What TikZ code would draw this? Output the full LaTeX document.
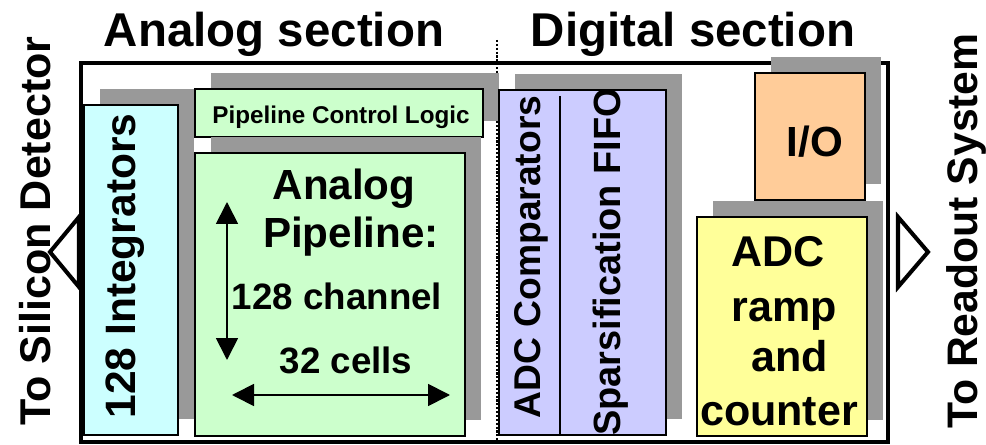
\documentclass[tikz,border=0pt]{standalone}
\usepackage{fontspec}
\setmainfont{Liberation Sans}
\usetikzlibrary{shadows}
\usetikzlibrary{fit}
\usetikzlibrary{arrows.meta}
\definecolor{shadegray}{HTML}{999999}
\definecolor{integcol}{HTML}{CCFFFF}
\definecolor{pipecol}{HTML}{CCFFCC}
\definecolor{fifocol}{HTML}{CCCCFF}
\definecolor{iocol}{HTML}{FFCC99}
\definecolor{rampcol}{HTML}{FFFF99}
\newcommand{\fsz}[1]{\fontsize{#1}{#1}\selectfont\bfseries}
\tikzstyle{block}=[draw, line width=1pt, inner sep=0pt, drop shadow={shadow xshift=0.32cm, shadow yshift=0.32cm, fill=shadegray, opacity=1}]
\tikzstyle{chipframe}=[draw, line width=2.5pt, inner sep=0pt]
\tikzstyle{divider}=[densely dotted, line width=1.2pt]
\tikzstyle{port}=[draw, fill=white, line width=2.3pt, line join=miter]
\tikzstyle{span}=[{Triangle[length=0.44cm,width=0.44cm]}-{Triangle[length=0.44cm,width=0.44cm]}, line width=1pt]
\tikzstyle{txt}=[inner sep=0pt, anchor=base]

\begin{document}
\begin{tikzpicture}[x=0.02cm, y=-0.02cm]
  \useasboundingbox (0,0) rectangle (986,445);

  % chip outline and section border
  \node[chipframe, fit={(81,63) (888,442)}] (chip) {};
  \coordinate (divtop) at (497,40);
  \coordinate (divbot) at (497,443);
  \draw[divider] (divtop) -- (divbot);

  % blocks
  \foreach \name/\xa/\ya/\xb/\yb/\col in {integ/84/105/178/435/integcol, ctrl/195/89/483/137/pipecol, pipe/195/153/465/436/pipecol, fifo/499/90/666/435/fifocol, io/755/73/865/200/iocol, ramp/697/217/867/436/rampcol}
    \node[block, fill=\col, fit={(\xa,\ya) (\xb,\yb)}] (\name) {};

  \coordinate (fifosplit) at (560,96);
  \draw[line width=1pt] (fifosplit) -- (fifosplit |- fifo.south);

  % ports
  \draw[port] (79,217) -- (50,252) -- (79,287) -- cycle;
  \draw[port] (898,217) -- (928,252) -- (898,287) -- cycle;

  % horizontal labels
  \foreach \name/\x/\y/\s/\label in {asec/274/47/27/Analog section, dsec/693/47/27/Digital section, ctrltxt/341/124/13.8/Pipeline Control Logic, pipetxta/344/200/24/Analog, pipetxtb/351/248/24/Pipeline:, chan/337/310/20.9/128 channel, cells/346/374/20.9/32 cells, iotxt/815/157/24/{I/O}, adc/778/267/24.5/ADC, ramptxt/784/322/24.5/ramp, andtxt/790/372/24.5/and, counter/779/425/24.5/counter}
    \node[txt, font=\fsz{\s}] (\name) at (\x,\y) {\label};

  % rotated labels
  \foreach \name/\x/\y/\s/\label in {silicon/50/231/24.5/To Silicon Detector, readout/977/231/24.3/To Readout System, integtxt/135/266/24.2/128 Integrators, comptxt/540/257/21.2/ADC Comparators, sparstxt/620/262/21.6/Sparsification FIFO}
    \node[txt, rotate=90, font=\fsz{\s}] (\name) at (\x,\y) {\label};

  % pipeline extent
  \coordinate (vtop) at (227,202);
  \coordinate (vbot) at (227,360);
  \coordinate (hleft) at (232,395);
  \coordinate (hright) at (450,395);
  \draw[span] (vtop) -- (vbot);
  \draw[span] (hleft) -- (hright);

\end{tikzpicture}
\end{document}
